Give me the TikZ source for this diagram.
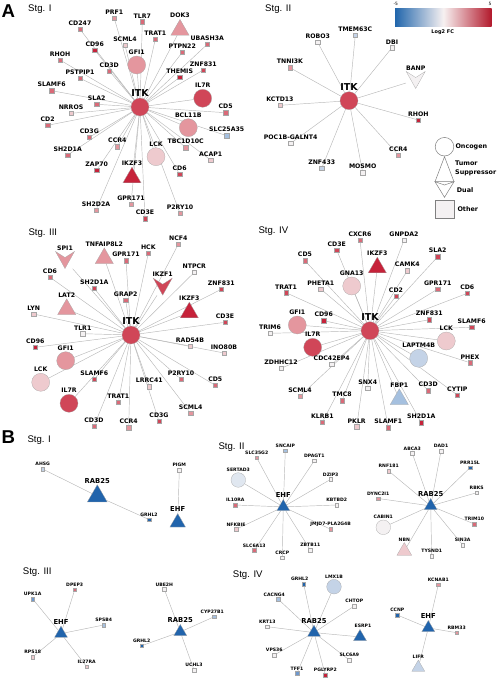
\documentclass[tikz,border=0pt]{standalone}
\usepackage{fontspec}
\setmainfont{DejaVu Sans}
\newfontfamily\stgfont{Liberation Sans}
\usetikzlibrary{shapes.geometric}
\pgfdeclarelayer{edges}
\pgfsetlayers{edges,main}

\definecolor{rA}{RGB}{198,34,58}
\definecolor{rB}{RGB}{208,70,88}
\definecolor{rC}{RGB}{218,106,120}
\definecolor{rD}{RGB}{228,150,158}
\definecolor{rE}{RGB}{238,202,206}
\definecolor{wG}{RGB}{244,241,242}
\definecolor{bW}{RGB}{224,231,240}
\definecolor{bE}{RGB}{196,211,231}
\definecolor{bL}{RGB}{165,192,223}
\definecolor{bD}{RGB}{110,152,205}
\definecolor{bA}{RGB}{33,100,172}
\definecolor{barL}{RGB}{33,102,172}
\definecolor{barM}{RGB}{247,241,241}
\definecolor{barR}{RGB}{178,24,43}

\newcommand{\dualmark}[2]{\draw[gene,fill=#2,shift={(#1.center)}] (-9.5,-8.5) -- (0,-2.5) -- (9.5,-8.5) -- (0,8.5) -- cycle;}

\begin{document}
\begin{tikzpicture}[x=1pt,y=-1pt,
  link/.style={draw=black!28,line width=0.45pt},
  gene/.style={draw=black!35,line width=0.25pt,inner sep=0pt},
  sq/.style={gene,rectangle,minimum size=4.6pt},
  sqb/.style={gene,rectangle,minimum size=3.6pt},
  onc/.style={gene,circle,minimum size=18pt},
  oncb/.style={gene,circle,minimum size=14.6pt},
  sup/.style={gene,regular polygon,regular polygon sides=3,minimum size=21pt},
  supb/.style={gene,regular polygon,regular polygon sides=3,minimum size=15pt},
  dualbox/.style={rectangle,minimum width=19pt,minimum height=17pt,inner sep=0pt},
  lab/.style={font=\fontsize{6.2}{6.2}\selectfont\bfseries,inner sep=0.4pt},
  labb/.style={font=\fontsize{4.6}{4.6}\selectfont\bfseries,inner sep=0.3pt},
  hub/.style={font=\fontsize{9.5}{9.5}\selectfont\bfseries,inner sep=0.5pt},
  hubb/.style={font=\fontsize{6.8}{6.8}\selectfont\bfseries,inner sep=0.5pt},
  stg/.style={font=\stgfont\fontsize{9.6}{9.6}\selectfont,anchor=base west,inner sep=0pt},
  panel/.style={font=\stgfont\fontsize{18.6}{18.6}\selectfont\bfseries,anchor=base west,inner sep=0pt},
  legtxt/.style={font=\fontsize{6.4}{9}\selectfont\bfseries,anchor=west,align=left,inner sep=0pt},
  label distance=0.6pt]
\useasboundingbox (0,0) rectangle (498,678);

% panel A, stage I
\node[panel] (pa) at (1.5,17.5) {A};
\node[stg] (a1-t) at (28,11.5) {Stg. I};
\node[onc,fill=rB,label={[hub]above:ITK}] (a1-itk) at (140,107) {};
\node[sq,fill=rD,label={[lab]above:PRF1}] (a1-prf1) at (114.3,18.3) {};
\node[sq,fill=rC,label={[lab]above:TLR7}] (a1-tlr7) at (142.3,21.7) {};
\node[sup,fill=rD,label={[lab]above:DOK3}] (a1-dok3) at (180,29.9) {};
\node[sq,fill=rC,label={[lab]above:CD247}] (a1-cd247) at (80,29.3) {};
\node[sq,fill=rE,label={[lab]above:SCML4}] (a1-scml4) at (125,45) {};
\node[sq,fill=rC,label={[lab]above:TRAT1}] (a1-trat1) at (155.3,39.3) {};
\node[sq,fill=rC,label={[lab]above:UBASH3A}] (a1-ubash3a) at (207.3,44.3) {};
\node[sq,fill=rA,label={[lab]above:CD96}] (a1-cd96) at (94.7,50) {};
\node[sq,fill=rC,label={[lab]above:PTPN22}] (a1-ptpn22) at (182.3,52.3) {};
\node[sq,fill=rC,label={[lab]above:RHOH}] (a1-rhoh) at (60,60) {};
\node[onc,fill=rD,label={[lab]above:GFI1}] (a1-gfi1) at (136.7,65) {};
\node[sq,fill=rC,label={[lab]above:CD3D}] (a1-cd3d) at (109.3,71) {};
\node[sq,fill=rB,label={[lab]above:ZNF831}] (a1-znf831) at (203.3,70) {};
\node[sq,fill=rA,label={[lab]above:THEMIS}] (a1-themis) at (179.7,77.3) {};
\node[sq,fill=rC,label={[lab]above:PSTPIP1}] (a1-pstpip1) at (80,78.3) {};
\node[sq,fill=rC,label={[lab]above:SLAMF6}] (a1-slamf6) at (51.7,90.7) {};
\node[onc,fill=rB,label={[lab]above:IL7R}] (a1-il7r) at (202.7,98.3) {};
\node[sq,fill=rC,label={[lab]above:SLA2}] (a1-sla2) at (96.7,104.3) {};
\node[sq,fill=rE,label={[lab]above:NRROS}] (a1-nrros) at (71,113.3) {};
\node[sq,fill=rC,label={[lab]above:CD5}] (a1-cd5) at (225.7,112.7) {};
\node[sq,fill=rC,label={[lab]above:CD2}] (a1-cd2) at (47.7,125.3) {};
\node[onc,fill=rD,label={[lab]above:BCL11B}] (a1-bcl11b) at (188.3,127.7) {};
\node[sq,fill=bL,label={[lab]above:SLC25A35}] (a1-slc25a35) at (226.7,135.7) {};
\node[sq,fill=rC,label={[lab]above:CD3G}] (a1-cd3g) at (89.3,137.3) {};
\node[sq,fill=rD,label={[lab]above:TBC1D10C}] (a1-tbc1d10c) at (185.7,147.7) {};
\node[sq,fill=rD,label={[lab]above:CCR4}] (a1-ccr4) at (117.3,146.7) {};
\node[onc,fill=rE,label={[lab]above:LCK}] (a1-lck) at (156,156.7) {};
\node[sq,fill=rE,label={[lab]above:ACAP1}] (a1-acap1) at (210.7,160) {};
\node[sq,fill=rC,label={[lab]above:SH2D1A}] (a1-sh2d1a) at (67.7,155) {};
\node[sq,fill=rA,label={[lab]above:ZAP70}] (a1-zap70) at (96.7,170) {};
\node[sup,fill=rA,label={[lab]above:IKZF3}] (a1-ikzf3) at (132,177.6) {};
\node[sq,fill=rB,label={[lab]above:CD6}] (a1-cd6) at (179.7,174.3) {};
\node[sq,fill=rD,label={[lab]above:GPR171}] (a1-gpr171) at (131,204) {};
\node[sq,fill=rD,label={[lab]above:SH2D2A}] (a1-sh2d2a) at (96,210) {};
\node[sq,fill=rD,label={[lab]above:P2RY10}] (a1-p2ry10) at (180,213.3) {};
\node[sq,fill=rB,label={[lab]above:CD3E}] (a1-cd3e) at (145,218.7) {};

% panel A, stage II
\node[stg] (a2-t) at (265,11) {Stg. II};
\node[onc,fill=rB,label={[hub]above:ITK}] (a2-itk) at (349,100.7) {};
\node[sq,fill=wG,label={[lab]above:ROBO3}] (a2-robo3) at (317.7,42.3) {};
\node[sq,fill=bE,label={[lab]above:TMEM63C}] (a2-tmem63c) at (355.3,35) {};
\node[sq,fill=wG,label={[lab]above:DBI}] (a2-dbi) at (392,47.7) {};
\node[sq,fill=rD,label={[lab]above:TNNI3K}] (a2-tnni3k) at (290,67.7) {};
\node[dualbox,label={[lab]above:BANP}] (a2-banp) at (415.7,80) {};
\node[sq,fill=rE,label={[lab]above:KCTD13}] (a2-kctd13) at (280,105.3) {};
\node[sq,fill=rA,label={[lab]above:RHOH}] (a2-rhoh) at (418.3,120) {};
\node[sq,fill=wG,label={[lab]above:POC1B-GALNT4}] (a2-poc1b) at (290.7,143.3) {};
\node[sq,fill=rD,label={[lab]above:CCR4}] (a2-ccr4) at (398.3,155) {};
\node[sq,fill=bE,label={[lab]above:ZNF433}] (a2-znf433) at (321.7,168.3) {};
\node[sq,fill=wG,label={[lab]above:MOSMO}] (a2-mosmo) at (362.7,172.7) {};
\dualmark{a2-banp}{wG}

% colour bar and legend
\shade[left color=barL,right color=barR,middle color=barM] (395,8.3) rectangle (491.7,26.7);
\node[font=\fontsize{4.4}{4.4}\selectfont,inner sep=0pt] (bar-lo) at (395.7,4) {-5};
\node[font=\fontsize{4.4}{4.4}\selectfont,inner sep=0pt] (bar-hi) at (490,4) {5};
\node[font=\fontsize{5}{5}\selectfont\bfseries,inner sep=0pt] (bar-t) at (442.7,32) {Log2 FC};
\node[draw=black!50,line width=0.5pt,circle,minimum size=18.6pt,fill=white] (leg-onc) at (444.5,146.7) {};
\draw[draw=black!50,line width=0.5pt,fill=white] (435,181.7) -- (444.5,156.7) -- (454,181.7) -- cycle;
\draw[draw=black!50,line width=0.5pt,fill=white] (435,181.7) -- (444.5,185) -- (454,181.7) -- (444.5,197.3) -- cycle;
\node[draw=black!50,line width=0.5pt,rectangle,minimum size=18.7pt,fill=wG] (leg-oth) at (444.7,209.2) {};
\node[legtxt] (leg-onc-t) at (455.3,146.7) {Oncogen};
\node[legtxt] (leg-sup-t) at (455,168.8) {Tumor\\Suppressor};
\node[legtxt] (leg-dual-t) at (456.7,190) {Dual};
\node[legtxt] (leg-oth-t) at (457.3,209) {Other};

% panel A, stage III
\node[stg] (a3-t) at (28.3,235.7) {Stg. III};
\node[onc,fill=rB,label={[hub]above:ITK}] (a3-itk) at (131,335) {};
\node[dualbox,label={[lab]above:SPI1}] (a3-spi1) at (65,260) {};
\node[sup,fill=rD,label={[lab]above:TNFAIP8L2}] (a3-tnfaip8l2) at (104.3,258.3) {};
\node[sq,fill=rC,label={[lab]above:GPR171}] (a3-gpr171) at (126,260.7) {};
\node[sq,fill=rC,label={[lab]above:HCK}] (a3-hck) at (148.3,253.3) {};
\node[sq,fill=rD,label={[lab]above:NCF4}] (a3-ncf4) at (178.3,244.3) {};
\node[sq,fill=rC,label={[lab]above:CD6}] (a3-cd6) at (50,277.3) {};
\node[sq,fill=wG,label={[lab]above:NTPCR}] (a3-ntpcr) at (194.3,272.3) {};
\node[sq,fill=rB,label={[lab]above:SH2D1A}] (a3-sh2d1a) at (94.3,288.3) {};
\node[dualbox,label={[lab]above:IKZF1}] (a3-ikzf1) at (162.7,286.7) {};
\node[sq,fill=rB,label={[lab]above:ZNF831}] (a3-znf831) at (221.3,289.3) {};
\node[sup,fill=rD,label={[lab]above:LAT2}] (a3-lat2) at (66.7,309.3) {};
\node[sq,fill=rC,label={[lab]above:GRAP2}] (a3-grap2) at (125.7,300) {};
\node[sup,fill=rA,label={[lab]above:IKZF3}] (a3-ikzf3) at (189.3,312.6) {};
\node[sq,fill=rE,label={[lab]above:LYN}] (a3-lyn) at (33.7,314) {};
\node[sq,fill=rB,label={[lab]above:CD3E}] (a3-cd3e) at (225,322.3) {};
\node[sq,fill=wG,label={[lab]above:TLR1}] (a3-tlr1) at (82.7,333.7) {};
\node[sq,fill=rA,label={[lab]above:CD96}] (a3-cd96) at (35.3,347.3) {};
\node[sq,fill=rE,label={[lab]above:RAD54B}] (a3-rad54b) at (190,346) {};
\node[sq,fill=rE,label={[lab]above:INO80B}] (a3-ino80b) at (224,353) {};
\node[onc,fill=rD,label={[lab]above:GFI1}] (a3-gfi1) at (65.7,360.7) {};
\node[onc,fill=rE,label={[lab]above:LCK}] (a3-lck) at (40.7,382.3) {};
\node[sq,fill=rB,label={[lab]above:SLAMF6}] (a3-slamf6) at (94.3,379.3) {};
\node[sq,fill=rE,label={[lab]above:LRRC41}] (a3-lrrc41) at (149.3,386.7) {};
\node[sq,fill=rC,label={[lab]above:P2RY10}] (a3-p2ry10) at (181,379.3) {};
\node[sq,fill=rC,label={[lab]above:CD5}] (a3-cd5) at (215.3,385.3) {};
\node[onc,fill=rB,label={[lab]above:IL7R}] (a3-il7r) at (69,403.3) {};
\node[sq,fill=rC,label={[lab]above:TRAT1}] (a3-trat1) at (118.3,402) {};
\node[sq,fill=rD,label={[lab]above:SCML4}] (a3-scml4) at (190.7,413) {};
\node[sq,fill=rC,label={[lab]above:CD3D}] (a3-cd3d) at (94,426) {};
\node[sq,fill=rD,label={[lab]above:CCR4}] (a3-ccr4) at (128.7,427.7) {};
\node[sq,fill=rB,label={[lab]above:CD3G}] (a3-cd3g) at (159,421.3) {};
\dualmark{a3-spi1}{rD}
\dualmark{a3-ikzf1}{rB}

% panel A, stage IV
\node[stg] (a4-t) at (258.3,233.7) {Stg. IV};
\node[onc,fill=rB,label={[hub]above:ITK}] (a4-itk) at (370,330.7) {};
\node[sq,fill=rC,label={[lab]above:CXCR6}] (a4-cxcr6) at (360,240) {};
\node[sq,fill=wG,label={[lab]above:GNPDA2}] (a4-gnpda2) at (404,240) {};
\node[sq,fill=rB,label={[lab]above:CD3E}] (a4-cd3e) at (336.7,250) {};
\node[sup,fill=rA,label={[lab]above:IKZF3}] (a4-ikzf3) at (377.3,267.6) {};
\node[sq,fill=rB,label={[lab]above:SLA2}] (a4-sla2) at (437.7,256.7) {};
\node[sq,fill=rC,label={[lab]above:CD5}] (a4-cd5) at (305,260.7) {};
\node[sq,fill=rE,label={[lab]above:CAMK4}] (a4-camk4) at (407.3,270.7) {};
\node[onc,fill=rE,label={[lab]above:GNA13}] (a4-gna13) at (351.7,286) {};
\node[sq,fill=rE,label={[lab]above:PHETA1}] (a4-pheta1) at (320.7,289) {};
\node[sq,fill=rB,label={[lab]above:TRAT1}] (a4-trat1) at (286,292.7) {};
\node[sq,fill=rC,label={[lab]above:GPR171}] (a4-gpr171) at (437.7,289) {};
\node[sq,fill=rB,label={[lab]above:CD6}] (a4-cd6) at (467.3,293.3) {};
\node[sq,fill=rB,label={[lab]above:CD2}] (a4-cd2) at (396,296) {};
\node[onc,fill=rD,label={[lab]above:GFI1}] (a4-gfi1) at (297.3,325) {};
\node[sq,fill=rA,label={[lab]above:CD96}] (a4-cd96) at (323.7,320.7) {};
\node[sq,fill=rB,label={[lab]above:ZNF831}] (a4-znf831) at (429.3,319.7) {};
\node[sq,fill=rB,label={[lab]above:SLAMF6}] (a4-slamf6) at (471.7,327.3) {};
\node[sq,fill=wG,label={[lab]above:TRIM6}] (a4-trim6) at (270,333.3) {};
\node[onc,fill=rE,label={[lab]above:LCK}] (a4-lck) at (446.3,341) {};
\node[onc,fill=rB,label={[lab]above:IL7R}] (a4-il7r) at (312.7,347.3) {};
\node[onc,fill=bE,label={[lab]above:LAPTM4B}] (a4-laptm4b) at (418.7,358.3) {};
\node[sq,fill=rC,label={[lab]above:PHEX}] (a4-phex) at (470,362.7) {};
\node[sq,fill=wG,label={[lab]above:ZDHHC12}] (a4-zdhhc12) at (281,368.3) {};
\node[sq,fill=wG,label={[lab]above:CDC42EP4}] (a4-cdc42ep4) at (331.7,364.3) {};
\node[sq,fill=wG,label={[lab]above:SNX4}] (a4-snx4) at (367.7,388) {};
\node[sup,fill=bL,label={[lab]above:FBP1}] (a4-fbp1) at (399.3,399.3) {};
\node[sq,fill=rC,label={[lab]above:CD3D}] (a4-cd3d) at (428.3,390.7) {};
\node[sq,fill=rB,label={[lab]above:CYTIP}] (a4-cytip) at (457.3,395) {};
\node[sq,fill=rD,label={[lab]above:SCML4}] (a4-scml4) at (300,396) {};
\node[sq,fill=rC,label={[lab]above:TMC8}] (a4-tmc8) at (342,400.7) {};
\node[sq,fill=rC,label={[lab]above:KLRB1}] (a4-klrb1) at (322.3,422.3) {};
\node[sq,fill=rE,label={[lab]above:PKLR}] (a4-pklr) at (356.7,426.7) {};
\node[sq,fill=rC,label={[lab]above:SLAMF1}] (a4-slamf1) at (388.3,427.7) {};
\node[sq,fill=rA,label={[lab]above:SH2D1A}] (a4-sh2d1a) at (421.3,422.7) {};

% panel B, stage I
\node[panel] (pb) at (1.5,443.3) {B};
\node[stg] (b1-t) at (27.3,442.3) {Stg. I};
\node[sup,minimum size=23pt,fill=bA,label={[hubb]above:RAB25}] (b1-rab25) at (97.3,496.2) {};
\node[sqb,fill=bE,label={[labb]above:AHSG}] (b1-ahsg) at (42.7,469) {};
\node[sqb,fill=wG,label={[labb]above:PIGM}] (b1-pigm) at (179.3,470) {};
\node[sqb,fill=bA,label={[labb]above:GRHL2}] (b1-grhl2) at (149,519.5) {};
\node[supb,minimum size=18pt,fill=bA,label={[hubb]above:EHF}] (b1-ehf) at (177.7,522.5) {};

% panel B, stage II
\node[stg] (b2-t) at (218.3,449) {Stg. II};
\node[supb,fill=bA,label={[hubb]above:EHF}] (b2-ehf) at (283.3,506.9) {};
\node[sqb,fill=bL,label={[labb]above:SNCAIP}] (b2-sncaip) at (285.3,450.7) {};
\node[sqb,fill=rD,label={[labb]above:SLC35G2}] (b2-slc35g2) at (256.7,457.7) {};
\node[sqb,fill=wG,label={[labb]above:DPAGT1}] (b2-dpagt1) at (314.3,460.7) {};
\node[oncb,fill=bW,label={[labb]above:SERTAD3}] (b2-sertad3) at (238.3,480) {};
\node[sqb,fill=wG,label={[labb]above:DZIP3}] (b2-dzip3) at (330.7,479.3) {};
\node[sqb,fill=rC,label={[labb]above:IL10RA}] (b2-il10ra) at (235.3,505) {};
\node[sqb,fill=wG,label={[labb]above:KBTBD2}] (b2-kbtbd2) at (336.7,505) {};
\node[sqb,fill=rE,label={[labb]above:NFKBIE}] (b2-nfkbie) at (236,529.3) {};
\node[sqb,fill=rD,label={[labb]above:JMJD7-PLA2G4B}] (b2-jmjd7) at (330.7,529.3) {};
\node[sqb,fill=rC,label={[labb]above:SLC6A13}] (b2-slc6a13) at (254.3,550.3) {};
\node[sqb,fill=wG,label={[labb]above:CRCP}] (b2-crcp) at (282.3,557.7) {};
\node[sqb,fill=wG,label={[labb]above:ZBTB11}] (b2-zbtb11) at (310.3,550) {};
\node[supb,fill=bA,label={[hubb]above:RAB25}] (b2-rab25) at (430.7,505.9) {};
\node[sqb,fill=wG,label={[labb]above:ABCA3}] (b2-abca3) at (412.3,453.3) {};
\node[sqb,fill=wG,label={[labb]above:DAD1}] (b2-dad1) at (441,451) {};
\node[sqb,fill=rE,label={[labb]above:RNF181}] (b2-rnf181) at (388.7,471) {};
\node[sqb,fill=bA,label={[labb]above:PRR15L}] (b2-prr15l) at (470,467.7) {};
\node[sqb,fill=rD,label={[labb]above:DYNC2I1}] (b2-dync2i1) at (378.3,498.5) {};
\node[sqb,fill=wG,label={[labb]above:RBKS}] (b2-rbks) at (476.7,492.7) {};
\node[oncb,fill=wG,label={[labb]above:CABIN1}] (b2-cabin1) at (383.3,527.3) {};
\node[sqb,fill=rC,label={[labb]above:TRIM10}] (b2-trim10) at (474.3,524) {};
\node[supb,minimum size=17pt,fill=rE,label={[labb]above:NBN}] (b2-nbn) at (404.3,551) {};
\node[sqb,fill=wG,label={[labb]above:TYSND1}] (b2-tysnd1) at (431.7,556) {};
\node[sqb,fill=wG,label={[labb]above:SIN3A}] (b2-sin3a) at (462.7,545) {};

% panel B, stage III
\node[stg] (b3-t) at (22.7,574.3) {Stg. III};
\node[supb,fill=bA,label={[hubb]above:EHF}] (b3-ehf) at (61,633.6) {};
\node[sqb,fill=rC,label={[labb]above:DPEP3}] (b3-dpep3) at (74.7,589.7) {};
\node[sqb,fill=bD,label={[labb]above:UPK1A}] (b3-upk1a) at (32.7,599) {};
\node[sqb,fill=bL,label={[labb]above:SPSB4}] (b3-spsb4) at (103.7,625) {};
\node[sqb,fill=rE,label={[labb]above:RPS18}] (b3-rps18) at (32.7,657) {};
\node[sqb,fill=rE,label={[labb]above:IL27RA}] (b3-il27ra) at (86.7,666.7) {};
\node[supb,fill=bA,label={[hubb]above:RAB25}] (b3-rab25) at (180.3,631.9) {};
\node[sqb,fill=wG,label={[labb]above:UBE2H}] (b3-ube2h) at (164.3,589.3) {};
\node[sqb,fill=bA,label={[labb]above:GRHL2}] (b3-grhl2) at (141.7,645.7) {};
\node[sqb,fill=wG,label={[labb]above:UCHL3}] (b3-uchl3) at (194,670) {};
\node[sqb,fill=bL,label={[labb,xshift=-2pt]above:CYP27B1}] (b3-cyp27b1) at (214.3,616.7) {};

% panel B, stage IV
\node[stg] (b4-t) at (232.7,577.7) {Stg. IV};
\node[supb,fill=bA,label={[hubb]above:RAB25}] (b4-rab25) at (314,632.6) {};
\node[sqb,fill=bA,label={[labb,xshift=-4pt]above:GRHL2}] (b4-grhl2) at (303.7,584) {};
\node[oncb,fill=bE,label={[labb]above:LMX1B}] (b4-lmx1b) at (334,586.7) {};
\node[sqb,fill=bL,label={[labb,xshift=-4pt]above:CACNG4}] (b4-cacng4) at (278.3,599.3) {};
\node[sqb,fill=wG,label={[labb]above:CHTOP}] (b4-chtop) at (354.3,606) {};
\node[sqb,fill=wG,label={[labb]above:KRT13}] (b4-krt13) at (267.3,626.7) {};
\node[supb,fill=bA,label={[labb,xshift=3pt]above:ESRP1}] (b4-esrp1) at (360,636.9) {};
\node[sqb,fill=wG,label={[labb]above:VPS36}] (b4-vps36) at (274.3,655) {};
\node[sqb,fill=wG,label={[labb]above:SLC6A9}] (b4-slc6a9) at (349.3,660) {};
\node[sqb,fill=bD,label={[labb]above:TFF1}] (b4-tff1) at (297,673.3) {};
\node[sqb,fill=rA,label={[labb]above:PGLYRP2}] (b4-pglyrp2) at (325.3,675) {};
\node[supb,fill=bA,label={[hubb]above:EHF}] (b4-ehf) at (428.3,627.9) {};
\node[sqb,fill=rD,label={[labb]above:KCNAB1}] (b4-kcnab1) at (438.3,584.7) {};
\node[sqb,fill=bA,label={[labb]above:CCNP}] (b4-ccnp) at (397.3,615) {};
\node[sqb,fill=rD,label={[labb]above:RBM33}] (b4-rbm33) at (456.7,632.7) {};
\node[supb,fill=bE,label={[labb]above:LIFR}] (b4-lifr) at (418.3,667.6) {};

% interactions, behind the genes
\begin{pgfonlayer}{edges}
\path[link] (a1-itk) edge (a1-prf1) edge (a1-tlr7) edge (a1-dok3) edge (a1-cd247) edge (a1-scml4)
  edge (a1-trat1) edge (a1-ubash3a) edge (a1-cd96) edge (a1-ptpn22) edge (a1-rhoh) edge (a1-gfi1)
  edge (a1-cd3d) edge (a1-znf831) edge (a1-themis) edge (a1-pstpip1) edge (a1-slamf6) edge (a1-il7r)
  edge (a1-sla2) edge (a1-nrros) edge (a1-cd5) edge (a1-cd2) edge (a1-bcl11b) edge (a1-slc25a35)
  edge (a1-cd3g) edge (a1-tbc1d10c) edge (a1-ccr4) edge (a1-lck) edge (a1-acap1) edge (a1-sh2d1a)
  edge (a1-zap70) edge (a1-ikzf3) edge (a1-cd6) edge (a1-gpr171) edge (a1-sh2d2a) edge (a1-p2ry10)
  edge (a1-cd3e);
\path[link] (a2-itk) edge (a2-robo3) edge (a2-tmem63c) edge (a2-dbi) edge (a2-tnni3k) edge (a2-banp)
  edge (a2-kctd13) edge (a2-rhoh) edge (a2-poc1b) edge (a2-ccr4) edge (a2-znf433) edge (a2-mosmo);
\path[link] (a3-itk) edge (a3-spi1) edge (a3-tnfaip8l2) edge (a3-gpr171) edge (a3-hck) edge (a3-ncf4)
  edge (a3-cd6) edge (a3-ntpcr) edge (a3-sh2d1a) edge (a3-ikzf1) edge (a3-znf831) edge (a3-lat2)
  edge (a3-grap2) edge (a3-ikzf3) edge (a3-lyn) edge (a3-cd3e) edge (a3-tlr1) edge (a3-cd96)
  edge (a3-rad54b) edge (a3-ino80b) edge (a3-gfi1) edge (a3-lck) edge (a3-slamf6) edge (a3-lrrc41)
  edge (a3-p2ry10) edge (a3-cd5) edge (a3-il7r) edge (a3-trat1) edge (a3-scml4) edge (a3-cd3d)
  edge (a3-ccr4) edge (a3-cd3g);
\path[link] (a4-itk) edge (a4-cxcr6) edge (a4-gnpda2) edge (a4-cd3e) edge (a4-ikzf3) edge (a4-sla2)
  edge (a4-cd5) edge (a4-camk4) edge (a4-gna13) edge (a4-pheta1) edge (a4-trat1) edge (a4-gpr171)
  edge (a4-cd6) edge (a4-cd2) edge (a4-gfi1) edge (a4-cd96) edge (a4-znf831) edge (a4-slamf6)
  edge (a4-trim6) edge (a4-lck) edge (a4-il7r) edge (a4-laptm4b) edge (a4-phex) edge (a4-zdhhc12)
  edge (a4-cdc42ep4) edge (a4-snx4) edge (a4-fbp1) edge (a4-cd3d) edge (a4-cytip) edge (a4-scml4)
  edge (a4-tmc8) edge (a4-klrb1) edge (a4-pklr) edge (a4-slamf1) edge (a4-sh2d1a);
\path[link] (b1-rab25) edge (b1-ahsg) edge (b1-grhl2);
\path[link] (b1-ehf) edge (b1-pigm);
\path[link] (b2-ehf) edge (b2-sncaip) edge (b2-slc35g2) edge (b2-dpagt1) edge (b2-sertad3) edge (b2-dzip3)
  edge (b2-il10ra) edge (b2-kbtbd2) edge (b2-nfkbie) edge (b2-jmjd7) edge (b2-slc6a13) edge (b2-crcp)
  edge (b2-zbtb11);
\path[link] (b2-rab25) edge (b2-abca3) edge (b2-dad1) edge (b2-rnf181) edge (b2-prr15l) edge (b2-dync2i1)
  edge (b2-rbks) edge (b2-cabin1) edge (b2-trim10) edge (b2-nbn) edge (b2-tysnd1) edge (b2-sin3a);
\path[link] (b3-ehf) edge (b3-dpep3) edge (b3-upk1a) edge (b3-spsb4) edge (b3-rps18) edge (b3-il27ra);
\path[link] (b3-rab25) edge (b3-ube2h) edge (b3-grhl2) edge (b3-uchl3) edge (b3-cyp27b1);
\path[link] (b4-rab25) edge (b4-grhl2) edge (b4-lmx1b) edge (b4-cacng4) edge (b4-chtop) edge (b4-krt13)
  edge (b4-esrp1) edge (b4-vps36) edge (b4-slc6a9) edge (b4-tff1) edge (b4-pglyrp2);
\path[link] (b4-ehf) edge (b4-kcnab1) edge (b4-ccnp) edge (b4-rbm33) edge (b4-lifr);
\end{pgfonlayer}
\end{tikzpicture}
\end{document}
